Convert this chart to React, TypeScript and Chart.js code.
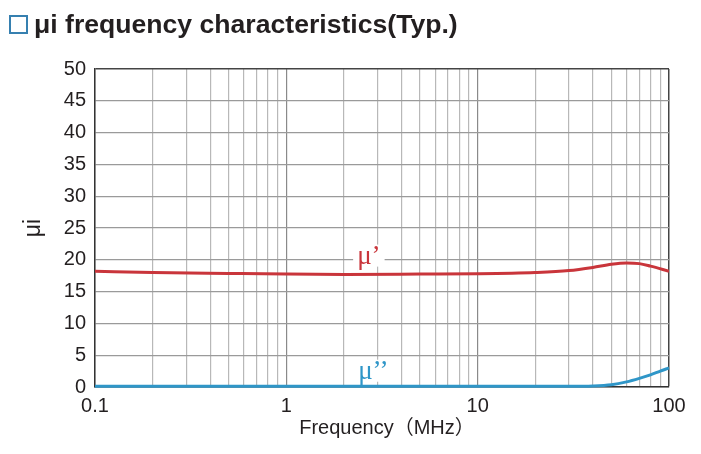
import React, { useEffect, useRef } from "react";
import { Chart, registerables } from "chart.js";

Chart.register(...registerables);

const freqPrime = [0.1, 0.2, 0.5, 1, 2, 5, 10, 20, 30, 40, 50, 60, 70, 80, 100];
const muPrime = [18.2, 18.0, 17.85, 17.75, 17.7, 17.75, 17.8, 18.0, 18.3, 18.8, 19.3, 19.5, 19.4, 19.0, 18.2];
const freqDouble = [0.1, 1, 10, 30, 40, 50, 60, 70, 80, 90, 100];
const muDouble = [0.1, 0.1, 0.1, 0.1, 0.15, 0.35, 0.8, 1.35, 1.9, 2.5, 3.0];
const xDecades = [0.1, 1, 10, 100];
const xTickLabels = ["0.1", "1", "10", "100"];
const yTicks = [0, 5, 10, 15, 20, 25, 30, 35, 40, 45, 50];

const FONT = "'Liberation Sans', Arial, 'Noto Sans CJK JP', sans-serif";
const RED = "#c9353b";
const BLUE = "#2f96c8";

const overlay = {
  id: "overlay",
  afterDraw(chart: any) {
    const ctx = chart.ctx;
    const x = chart.scales.x;
    const y = chart.scales.y;
    ctx.save();
    const drawLabel = (text: string, fx: number, fy: number, color: string) => {
      const px = x.getPixelForValue(fx);
      const py = y.getPixelForValue(fy);
      ctx.font = "27px 'Liberation Serif', 'Times New Roman', serif";
      const w = ctx.measureText(text).width;
      ctx.fillStyle = "#ffffff";
      ctx.fillRect(px - w / 2 - 4, py - 12, w + 8, 22);
      ctx.fillStyle = color;
      ctx.textAlign = "center";
      ctx.textBaseline = "middle";
      ctx.fillText(text, px, py);
    };
    drawLabel("\u03bc\u2019", 2.7, 20.5, RED);
    drawLabel("\u03bc\u2019\u2019", 2.85, 2.4, BLUE);
    ctx.fillStyle = "#231f20";
    ctx.font = "20px " + FONT;
    ctx.textAlign = "center";
    ctx.textBaseline = "middle";
    ctx.fillText("Frequency\uff08MHz\uff09", 387, 428);
    ctx.translate(34, 228);
    ctx.rotate(-Math.PI / 2);
    ctx.font = "23px " + FONT;
    ctx.fillText("\u03bci", 0, 0);
    ctx.restore();
  },
};

export default function App() {
  const ref = useRef<HTMLCanvasElement>(null);
  useEffect(() => {
    document.body.style.margin = "0";
    const minorTicks: number[] = [];
    xDecades.forEach((d, i) => {
      if (i === xDecades.length - 1) {
        minorTicks.push(d);
      } else {
        for (let k = 1; k <= 9; k++) minorTicks.push(Math.round(d * k * 1000) / 1000);
      }
    });
    const chart = new Chart(ref.current!, {
      type: "line",
      data: {
        datasets: [
          {
            label: "mu'",
            data: freqPrime.map((f, i) => ({ x: f, y: muPrime[i] })),
            borderColor: RED,
            borderWidth: 3,
            pointRadius: 0,
            cubicInterpolationMode: "monotone",
            fill: false,
          },
          {
            label: "mu''",
            data: freqDouble.map((f, i) => ({ x: f, y: muDouble[i] })),
            borderColor: BLUE,
            borderWidth: 3,
            pointRadius: 0,
            cubicInterpolationMode: "monotone",
            fill: false,
            clip: 4,
          },
        ],
      },
      options: {
        animation: false,
        responsive: false,
        layout: { padding: { left: 0, right: 32, top: 69, bottom: 0 } },
        plugins: { legend: { display: false }, tooltip: { enabled: false } },
        scales: {
          x: {
            type: "logarithmic",
            min: 0.1,
            max: 100,
            afterBuildTicks: (scale: any) => {
              scale.ticks = minorTicks.map((v) => ({ value: v }));
            },
            afterFit: (scale: any) => {
              scale.height = 67;
            },
            ticks: {
              autoSkip: false,
              maxRotation: 0,
              padding: 7,
              color: "#231f20",
              font: { family: FONT, size: 20 },
              callback: (v: any) => {
                const idx = xDecades.findIndex((d) => Math.abs(d - Number(v)) < 1e-9);
                return idx >= 0 ? xTickLabels[idx] : "";
              },
            },
            grid: {
              drawTicks: false,
              color: (c: any) => {
                const v = c.tick ? c.tick.value : 0;
                if (Math.abs(v - 100) < 1e-9) return "#444444";
                const isDec = xDecades.some((d) => Math.abs(d - v) < 1e-9);
                return isDec ? "#8a8a8a" : "#b8b8b8";
              },
              lineWidth: (c: any) => {
                const v = c.tick ? c.tick.value : 0;
                return Math.abs(v - 100) < 1e-9 ? 1.5 : 1.2;
              },
            },
            border: { display: true, color: "#333333", width: 1.5 },
          },
          y: {
            min: 0,
            max: 50,
            afterBuildTicks: (scale: any) => {
              scale.ticks = yTicks.map((v) => ({ value: v }));
            },
            afterFit: (scale: any) => {
              scale.width = 95;
            },
            ticks: {
              padding: 9,
              color: "#231f20",
              font: { family: FONT, size: 20 },
            },
            grid: {
              drawTicks: false,
              color: (c: any) => (c.tick && c.tick.value === 50 ? "#444444" : "#9a9a9a"),
              lineWidth: (c: any) => (c.tick && c.tick.value === 50 ? 1.5 : 1.2),
            },
            border: { display: true, color: "#333333", width: 1.5 },
          },
        },
      },
      plugins: [overlay],
    } as any);
    return () => chart.destroy();
  }, []);

  return (
    <div style={{ position: "relative", width: 701, height: 454, background: "#fff" }}>
      <canvas ref={ref} width={701} height={454} style={{ position: "absolute", left: 0, top: 0 }} />
      <span
        style={{
          position: "absolute",
          left: 9,
          top: 15,
          width: 15,
          height: 15,
          border: "2px solid #3680b0",
        }}
      />
      <div
        style={{
          position: "absolute",
          left: 34,
          top: 9,
          fontFamily: FONT,
          fontWeight: "bold",
          fontSize: 26.6,
          lineHeight: "30px",
          color: "#231f20",
          whiteSpace: "nowrap",
        }}
      >
        {"\u03bci frequency characteristics(Typ.)"}
      </div>
    </div>
  );
}
